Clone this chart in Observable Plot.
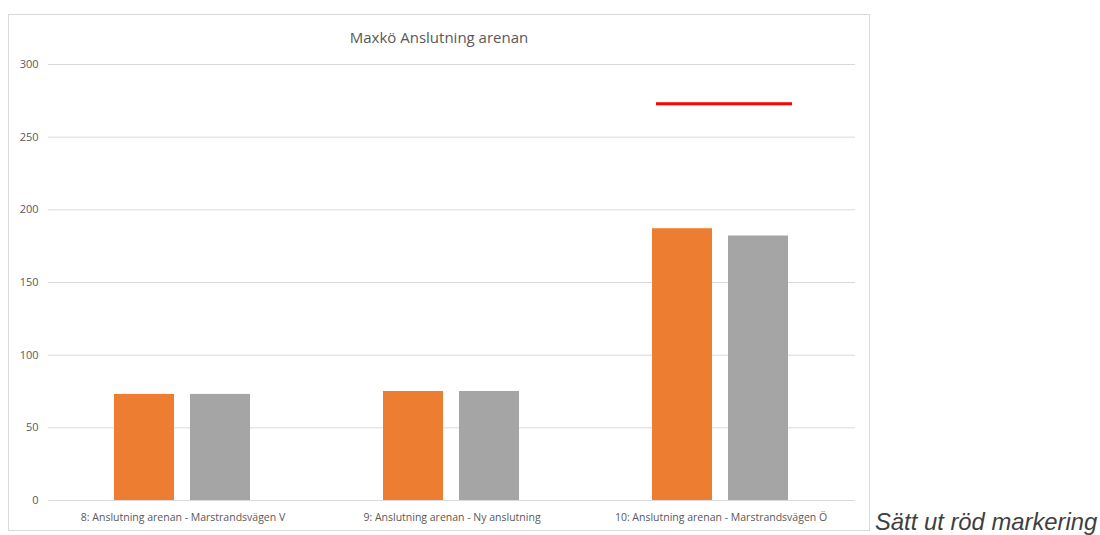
<!DOCTYPE html>
<html><head><meta charset="utf-8">
<script src="https://cdn.jsdelivr.net/npm/d3@7"></script>
<script src="https://cdn.jsdelivr.net/npm/@observablehq/plot@0.6"></script>
<style>
body{margin:0;background:#fff;font-family:"Open Sans",sans-serif;}
#frame{position:absolute;left:8px;top:14px;width:860px;border:1px solid #d9d9d9;background:#fff;}
#title{height:36px;box-sizing:border-box;padding-top:12px;line-height:20px;text-align:center;font-size:15px;color:#595959;}
#chart svg{display:block;}
#note{position:absolute;left:875px;top:510px;line-height:24px;font-family:"Liberation Sans",Arial,sans-serif;font-style:italic;font-size:23.8px;color:#3f3f3f;white-space:nowrap;}
</style>
</head><body>
<div id="frame"><div id="title">Maxkö Anslutning arenan</div><div id="chart"></div></div>
<div id="note">Sätt ut röd markering</div>
<script>
const categories = ["8: Anslutning arenan - Marstrandsvägen V", "9: Anslutning arenan - Ny anslutning", "10: Anslutning arenan - Marstrandsvägen Ö"];
const seriesNames = ["Serie 1", "Serie 2"];
const series1 = [73, 75, 187];
const series2 = [73, 75, 182];
const seriesColors = ["#ED7D31", "#A5A5A5"];
const yTicks = [0, 50, 100, 150, 200, 250, 300];
const markerCategory = "10: Anslutning arenan - Marstrandsvägen Ö";
const markerValue = 273;

const data = categories.flatMap((c, i) => [
  {category: c, series: seriesNames[0], value: series1[i]},
  {category: c, series: seriesNames[1], value: series2[i]}
]);
const marker = [{category: markerCategory, value: markerValue}];

const chart = Plot.plot({
  width: 860, height: 479,
  marginLeft: 38, marginRight: 13, marginTop: 13, marginBottom: 30,
  style: {fontFamily: "Open Sans", fontSize: "11px", color: "#595959", background: "transparent"},
  fx: {domain: categories, padding: 0, label: null},
  x: {domain: seriesNames, paddingInner: 0.209, paddingOuter: 0.869, axis: null},
  y: {domain: [0, 300], label: null},
  color: {domain: seriesNames, range: seriesColors},
  marks: [
    Plot.gridY(yTicks, {stroke: "#d9d9d9", strokeOpacity: 1}),
    Plot.axisY(yTicks, {tickSize: 0, tickPadding: 10, label: null, fontSize: 11, fill: "#595959"}),
    Plot.axisFx({anchor: "bottom", tickSize: 0, tickPadding: 13, label: null, fontSize: 10.5, fill: "#595959"}),
    Plot.barY(data, {fx: "category", x: "series", y: "value", fill: "series"}),
    Plot.ruleY(marker, {fx: "category", x1: () => seriesNames[0], x2: () => seriesNames[1], y: "value", stroke: "#ff0000", strokeWidth: 3, dx: 4})
  ]
});
document.getElementById("chart").appendChild(chart);
</script>
</body></html>
